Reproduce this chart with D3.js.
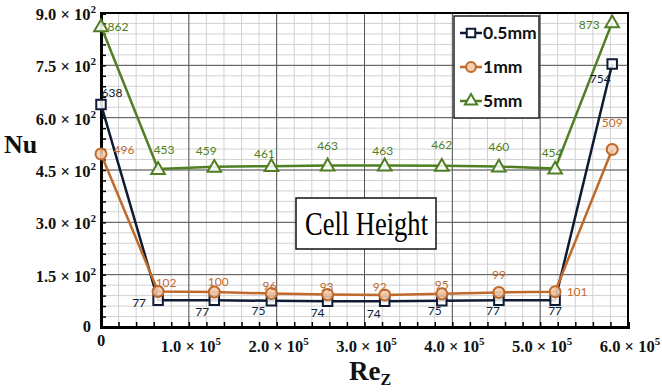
<!DOCTYPE html>
<html><head><meta charset="utf-8">
<script src="https://cdn.jsdelivr.net/npm/d3@7"></script>
<style>html,body{margin:0;padding:0;background:#fff}svg{display:block}</style>
</head><body><svg id="c" width="662" height="392"></svg>
<script>
const reValues = [0, 65000, 129000, 194000, 258000, 323000, 388000, 453000, 517000, 582000];
const nu05 = [638, 77, 77, 75, 74, 74, 75, 77, 77, 754];
const nu1 = [496, 102, 100, 96, 93, 92, 95, 99, 101, 509];
const nu5 = [862, 453, 459, 461, 463, 463, 462, 460, 454, 873];
const seriesNames = ["0.5mm", "1mm", "5mm"];
const yTickVals = [0, 150, 300, 450, 600, 750, 900];
const yTickMant = ["0", "1.5", "3.0", "4.5", "6.0", "7.5", "9.0"];
const xTickVals = [0, 100000, 200000, 300000, 400000, 500000, 600000];
const xTickMant = ["0", "1.0", "2.0", "3.0", "4.0", "5.0", "6.0"];

const svg = d3.select("#c");
const L = 101, R = 628, T = 13, B = 327;
const x = d3.scaleLinear().domain([0, 600000]).range([L, R]);
const y = d3.scaleLinear().domain([0, 900]).range([B, T]);

const serif = "'Liberation Serif', 'DejaVu Serif', serif";
const sans = "Lato, 'Liberation Sans', sans-serif";

// minor grid
const minorX = d3.range(0, 600001, 20000);
const minorY = d3.range(0, 901, 30);
const g = svg.append("g");
g.selectAll(".mx").data(minorX).enter().append("line")
  .attr("x1", d => x(d)).attr("x2", d => x(d)).attr("y1", T).attr("y2", B)
  .attr("stroke", "#d2d2d2").attr("stroke-width", 1);
g.selectAll(".my").data(minorY).enter().append("line")
  .attr("y1", d => y(d)).attr("y2", d => y(d)).attr("x1", L).attr("x2", R)
  .attr("stroke", "#d2d2d2").attr("stroke-width", 1);
// major grid
g.selectAll(".Mx").data(xTickVals).enter().append("line")
  .attr("x1", d => x(d)).attr("x2", d => x(d)).attr("y1", T).attr("y2", B)
  .attr("stroke", "#555").attr("stroke-width", 1);
g.selectAll(".My").data(yTickVals).enter().append("line")
  .attr("y1", d => y(d)).attr("y2", d => y(d)).attr("x1", L).attr("x2", R)
  .attr("stroke", "#555").attr("stroke-width", 1);

// border
svg.append("rect").attr("x", L).attr("y", T).attr("width", R - L).attr("height", B - T)
  .attr("fill", "none").attr("stroke", "#000").attr("stroke-width", 2);

// axes with inner minor ticks
const xAxis = d3.axisBottom(x).tickValues(minorX).tickSize(-5).tickFormat("");
const ax = svg.append("g").attr("transform", `translate(0,${B})`).call(xAxis);
ax.select(".domain").attr("stroke-width", 3);
ax.selectAll(".tick line").attr("stroke", "#000").attr("stroke-width", 1.5);
const yAxis = d3.axisLeft(y).tickValues(minorY).tickSize(-5).tickFormat("");
const ay = svg.append("g").attr("transform", `translate(${L},0)`).call(yAxis);
ay.select(".domain").attr("stroke-width", 3);
ay.selectAll(".tick line").attr("stroke", "#000").attr("stroke-width", 1.5);

// y tick labels
yTickVals.forEach((v, i) => {
  const t = svg.append("text").attr("x", 96).attr("y", y(v) + 7)
    .attr("text-anchor", "end").attr("font-family", serif).attr("font-weight", "bold")
    .attr("font-size", 16.5).attr("fill", "#111");
  if (v === 0) { t.attr("x", 91).attr("y", 332).text("0"); return; }
  t.append("tspan").text(yTickMant[i] + " × 10");
  t.append("tspan").attr("dy", -7).attr("font-size", 11).text("2");
});
// x tick labels
xTickVals.forEach((v, i) => {
  const t = svg.append("text").attr("x", x(v) + 2).attr("y", 352)
    .attr("text-anchor", "middle").attr("font-family", serif).attr("font-weight", "bold")
    .attr("font-size", 16.5).attr("fill", "#111");
  if (v === 0) { t.attr("x", x(v)).attr("y", 346).text("0"); return; }
  t.append("tspan").text(xTickMant[i] + " × 10");
  t.append("tspan").attr("dy", -7).attr("font-size", 11).text("5");
});

// axis titles
svg.append("text").attr("x", 4).attr("y", 153).attr("font-family", serif).attr("font-weight", "bold")
  .attr("font-size", 26).attr("fill", "#111").text("Nu");
const xt = svg.append("text").attr("x", 349).attr("y", 380).attr("font-family", serif).attr("font-weight", "bold")
  .attr("font-size", 27).attr("fill", "#111");
xt.append("tspan").text("Re");
xt.append("tspan").attr("dy", 5).attr("font-size", 16).text("Z");

// series
const series = [
  { name: seriesNames[0], vals: nu05, color: "#0f1a33", fill: "#ffffff", marker: "square" },
  { name: seriesNames[1], vals: nu1, color: "#bf6a2a", fill: "#f3cdb0", marker: "circle" },
  { name: seriesNames[2], vals: nu5, color: "#4f7f22", fill: "#ffffff", marker: "triangle" }
];
const line = d3.line().x(d => x(d[0])).y(d => y(d[1]));
const symSize = { square: 90, circle: 95, triangle: 80 };
const symType = { square: d3.symbolSquare, circle: d3.symbolCircle, triangle: d3.symbolTriangle };

[series[2], series[0], series[1]].forEach(s => {
  const pts = reValues.map((r, i) => [r, s.vals[i]]);
  svg.append("path").datum(pts).attr("d", line).attr("fill", "none")
    .attr("stroke", s.color).attr("stroke-width", 2.5);
  svg.selectAll(null).data(pts).enter().append("path")
    .attr("d", d3.symbol().type(symType[s.marker]).size(symSize[s.marker]))
    .attr("transform", d => `translate(${x(d[0])},${y(d[1]) + (s.marker === "triangle" ? 1 : 0)})`)
    .attr("fill", s.fill).attr("fill-opacity", 0.85).attr("stroke", s.color).attr("stroke-width", 2);
});

// data labels (offsets in px relative to point)
const labelOff05 = [[11, -11], [-19, 3], [-12, 12], [-13, 10], [-10, 12], [-11, 13], [-7, 10], [-6, 11], [0, 11], [-12, 15]];
const labelOff1 = [[23, -4], [8, -8], [4, -10], [-2, -8], [-1, -8], [-5, -8], [0, -9], [0, -17], [22, 0], [0, -26]];
const labelOff5 = [[17, 1], [6, -19], [-8, -16], [-7, -12], [0, -19], [-2, -14], [0, -21], [0, -20], [-3, -16], [-23, 3]];
const offs = [labelOff05, labelOff1, labelOff5];
series.forEach((s, si) => {
  s.vals.forEach((v, i) => {
    const o = offs[si][i];
    svg.append("text").attr("x", x(reValues[i]) + o[0]).attr("y", y(v) + o[1] + 4)
      .attr("text-anchor", "middle").attr("font-family", sans).attr("font-size", 12)
      .attr("fill", s.color).text(v);
  });
});

// legend
const lg = svg.append("g");
lg.append("rect").attr("x", 454).attr("y", 16).attr("width", 85).attr("height", 102)
  .attr("fill", "#fff").attr("stroke", "#222").attr("stroke-width", 1.5);
series.forEach((s, i) => {
  const yy = 33 + i * 34;
  lg.append("line").attr("x1", 460).attr("x2", 482).attr("y1", yy).attr("y2", yy)
    .attr("stroke", s.color).attr("stroke-width", 2.5);
  lg.append("path").attr("d", d3.symbol().type(symType[s.marker]).size(symSize[s.marker] * 0.8))
    .attr("transform", `translate(471,${yy})`).attr("fill", s.fill).attr("stroke", s.color).attr("stroke-width", 2);
  lg.append("text").attr("x", 483).attr("y", yy + 6).attr("font-family", sans).attr("font-weight", "bold")
    .attr("font-size", 17.5).attr("fill", "#111").text(s.name);
});

// Cell Height box
svg.append("rect").attr("x", 296).attr("y", 198).attr("width", 140).attr("height", 51)
  .attr("fill", "#fff").attr("stroke", "#111").attr("stroke-width", 1.5);
svg.append("text").attr("x", 305).attr("y", 235)
  .attr("textLength", 123).attr("lengthAdjust", "spacingAndGlyphs")
  .attr("font-family", serif).attr("font-size", 33).attr("fill", "#000").text("Cell Height");
</script></body></html>
